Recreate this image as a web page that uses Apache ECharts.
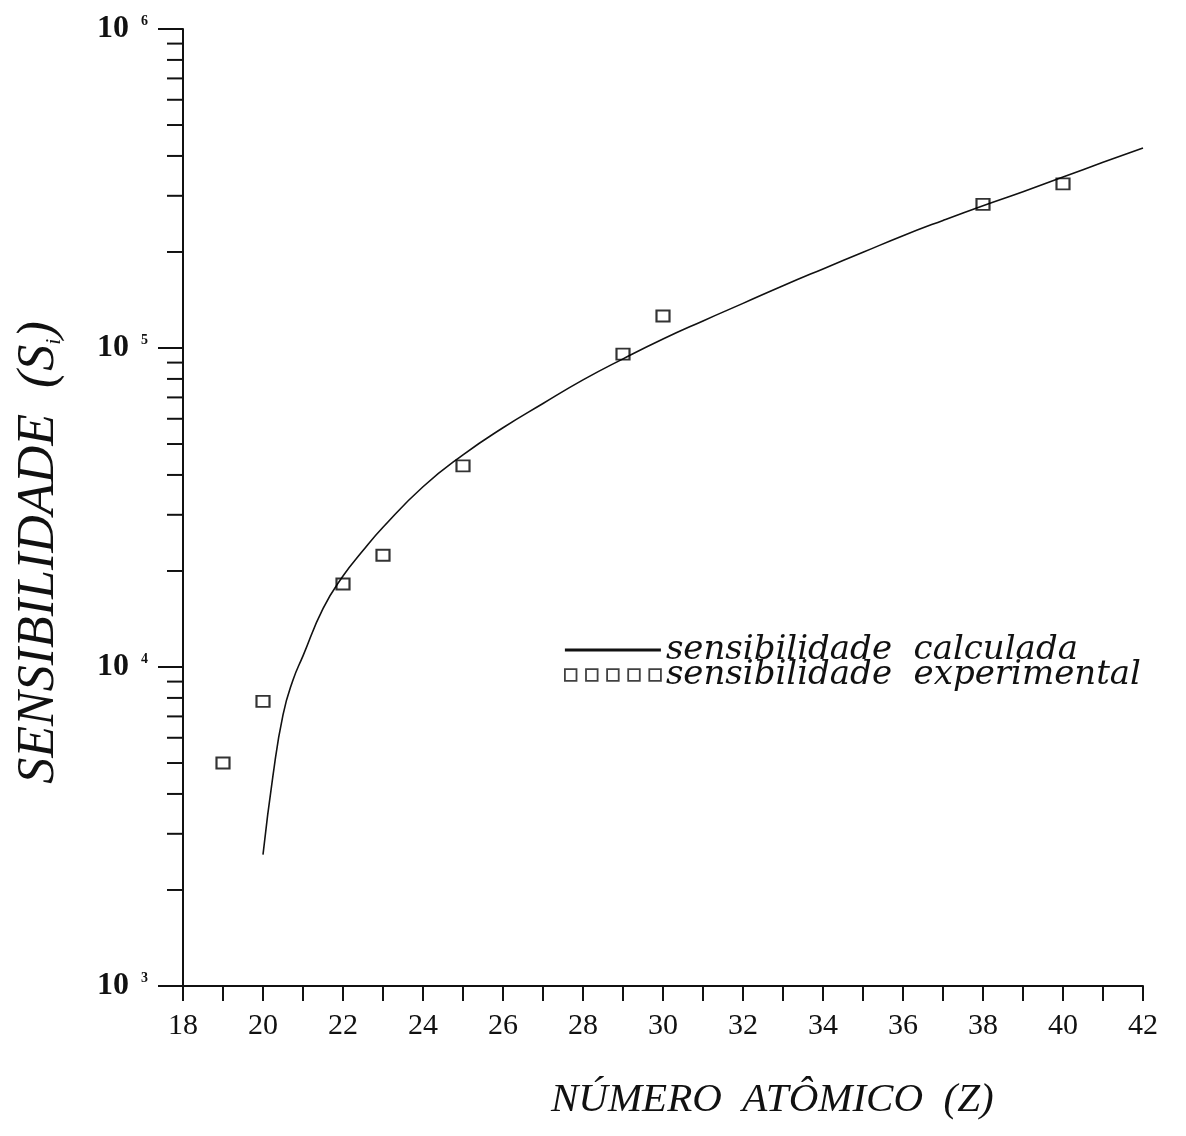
<!DOCTYPE html>
<html><head><meta charset="utf-8">
<script src="https://cdn.jsdelivr.net/npm/echarts@6/dist/echarts.min.js"></script>
<style>html,body{margin:0;padding:0;background:#fff}#c{width:1186px;height:1136px}</style>
</head><body><div id="c"></div>
<script>
// Experimental sensitivity (squares)
const expZ = [19, 20, 22, 23, 25, 29, 30, 38, 40];
const expS = [5000, 7800, 18200, 22400, 42700, 95700, 126000, 282000, 327000];
// Calculated sensitivity (curve)
const calcZ = [20.0, 20.25, 20.5, 20.75, 21, 21.5, 22, 22.5, 23, 24, 25, 26, 27, 28, 29, 30, 31, 32, 33, 34, 35, 36, 37, 38, 39, 40, 41, 42];
const calcS = [2580, 4570, 7080, 9100, 10840, 15240, 19280, 23170, 27420, 36730, 46240, 56230, 66990, 79430, 92470, 106700, 121600, 138000, 156700, 177000, 199500, 224900, 251200, 279300, 309000, 343600, 381900, 423600];
// Axis ticks
const xTickLabels = ['18','20','22','24','26','28','30','32','34','36','38','40','42'];
const yTickValues = [1000, 10000, 100000, 1000000];
const yMinorMultipliers = [2, 3, 4, 5, 6, 7, 8, 9];

const seriesNames = ['sensibilidade  calculada', 'sensibilidade  experimental'];
const squaresIcon = 'path://M0 0h11v11h-11Z M20 0h11v11h-11Z M40 0h11v11h-11Z M60 0h11v11h-11Z M80 0h11v11h-11Z';

const chart = echarts.init(document.getElementById('c'), null, {renderer: 'canvas'});
const serif = "'Liberation Serif', 'DejaVu Serif', serif";

const option = {
  backgroundColor: '#fff',
  animation: false,
  grid: {left: 183, top: 29, width: 960, height: 957, containLabel: false, outerBoundsMode: 'none'},
  title: {
    text: 'NÚMERO  ATÔMICO  (Z)',
    left: 546, top: 1075,
    textStyle: {fontFamily: serif, fontStyle: 'italic', fontWeight: 'normal', fontSize: 41, color: '#111'}
  },
  legend: {
    orient: 'vertical',
    left: 564, top: 633, padding: 0,
    itemWidth: 96, itemHeight: 12, itemGap: -9,
    textStyle: {fontFamily: "'DejaVu Serif', serif", fontStyle: 'italic', fontSize: 34, color: '#111'},
    data: [
      {name: seriesNames[0], icon: 'path://M0 0H100V3H0Z', itemStyle: {color: '#111', borderWidth: 0}},
      {name: seriesNames[1], icon: squaresIcon, itemStyle: {color: 'rgba(255,255,255,0)', borderColor: '#111', borderWidth: 1.8}}
    ]
  },
  xAxis: {
    type: 'value', min: 18, max: 42, interval: 2,
    axisLine: {show: true, lineStyle: {color: '#111', width: 2}},
    axisTick: {show: true, length: 15, lineStyle: {color: '#111', width: 2}},
    minorTick: {show: true, splitNumber: 2, length: 15, lineStyle: {color: '#111', width: 2}},
    splitLine: {show: false},
    axisLabel: {
      margin: 25, color: '#111', fontFamily: serif, fontSize: 30,
      formatter: function (v) { const i = Math.round((v - 18) / 2); return xTickLabels[i] || ''; }
    }
  },
  yAxis: {
    type: 'log', logBase: 10, min: yTickValues[0], max: yTickValues[yTickValues.length - 1],
    name: '{a|SENSIBILIDADE  (S}{s|i}{a|)}',
    nameLocation: 'middle', nameGap: 118, nameRotate: 90,
    nameTextStyle: {
      padding: [0, 90, 0, 0],
      rich: {
        a: {fontFamily: serif, fontStyle: 'italic', fontSize: 52, color: '#111'},
        s: {fontFamily: serif, fontStyle: 'italic', fontSize: 22, color: '#111', verticalAlign: 'bottom', lineHeight: 48}
      }
    },
    axisLine: {show: true, lineStyle: {color: '#111', width: 2}},
    axisTick: {show: true, length: 25, lineStyle: {color: '#111', width: 2}},
    splitLine: {show: false},
    axisLabel: {
      margin: 35,
      formatter: function (v) { return '{b|10}{e|' + Math.round(Math.log10(v)) + '}'; },
      rich: {
        b: {fontFamily: serif, fontWeight: 'bold', fontSize: 32, color: '#111', lineHeight: 30},
        e: {fontFamily: serif, fontWeight: 'bold', fontSize: 14, color: '#111', verticalAlign: 'top', lineHeight: 14, padding: [0, 0, 0, 12]}
      }
    }
  },
  series: [
    {
      name: seriesNames[0], type: 'line',
      data: calcZ.map((z, i) => [z, calcS[i]]),
      symbol: 'none', smooth: 0.5,
      lineStyle: {color: '#111', width: 1.6},
      z: 2
    },
    {
      name: seriesNames[1], type: 'scatter',
      data: expZ.map((z, i) => [z, expS[i]]),
      symbol: 'rect', symbolSize: [13, 11],
      itemStyle: {color: 'rgba(255,255,255,0)', borderColor: '#000', borderWidth: 2},
      z: 3
    }
  ]
};
chart.setOption(option);

// minor ticks of the log axis at 2..9 x 10^n
const minorLines = [];
for (let k = 0; k < yTickValues.length - 1; k++) {
  yMinorMultipliers.forEach(function (m) {
    const v = m * yTickValues[k];
    const py = chart.convertToPixel({yAxisIndex: 0}, v);
    const px = chart.convertToPixel({xAxisIndex: 0}, 18);
    minorLines.push({
      type: 'line', silent: true,
      shape: {x1: px - 16, y1: py, x2: px, y2: py},
      style: {stroke: '#111', lineWidth: 2}
    });
  });
}
chart.setOption({graphic: minorLines});
</script>
</body></html>
